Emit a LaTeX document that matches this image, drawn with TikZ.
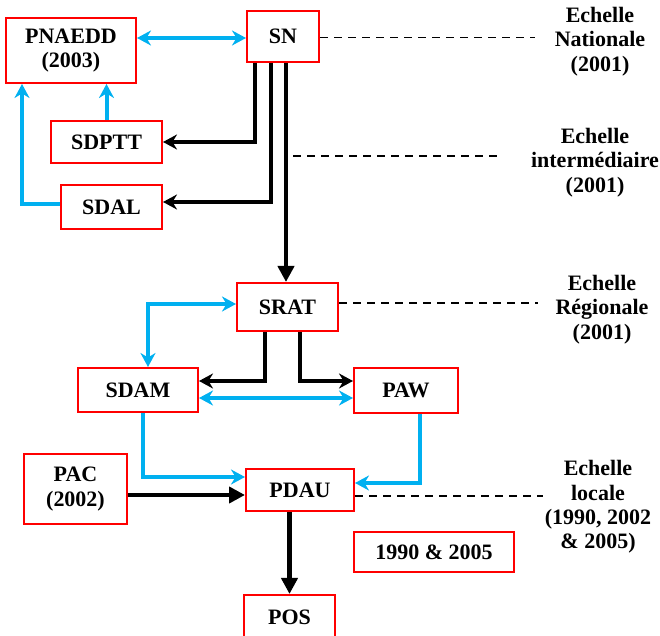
\documentclass[tikz,border=0pt]{standalone}
\usepackage{fontspec}
\setmainfont{Liberation Serif}
\usetikzlibrary{arrows.meta}
\definecolor{lienbleu}{HTML}{00B0F0}
\tikzset{
  boite/.style = {draw = red, line width = 1pt, inner sep = 0pt, align = center, font = \fontsize{11}{12.2}\selectfont\bfseries},
  echelle/.style = {align = center, font = \fontsize{11}{12.2}\selectfont\bfseries, inner sep = 0pt},
  noir/.style = {draw = black, line width = 2.2pt, -{Stealth[length = 7pt, width = 7.5pt]}},
  pointe/.style = {draw = black, line width = 2.2pt, -{Triangle[length = 8pt, width = 8pt]}},
  bleu/.style = {draw = lienbleu, line width = 2pt, -{Stealth[length = 7pt, width = 7.5pt]}},
  bleux/.style = {bleu, {Stealth[length = 7pt, width = 7.5pt]}-{Stealth[length = 7pt, width = 7.5pt]}},
  tirets/.style = {draw = black, line width = 0.6pt, dash pattern = on 4pt off 3pt}
}
\begin{document}
\begin{tikzpicture}[x = 0.5pt, y = -0.5pt]
\useasboundingbox (0,0) rectangle (660,636);
\node[boite, minimum width = 65pt, minimum height = 32.5pt] (pnaedd) at (71,50.5) {PNAEDD\\(2003)};
\node[boite, minimum width = 36pt, minimum height = 25.5pt] (sn) at (283,36.5) {SN};
\node[boite, minimum width = 55.5pt, minimum height = 21pt] (sdptt) at (106.5,142) {SDPTT};
\node[boite, minimum width = 50.5pt, minimum height = 22pt] (sdal) at (111.5,207) {SDAL};
\node[boite, minimum width = 50.5pt, minimum height = 24pt] (srat) at (287.5,307) {SRAT};
\node[boite, minimum width = 60pt, minimum height = 22pt] (sdam) at (138,390) {SDAM};
\node[boite, minimum width = 52pt, minimum height = 22.5pt] (paw) at (406,390.5) {PAW};
\node[boite, minimum width = 54pt, minimum height = 21pt] (pdau) at (300,490) {PDAU};
\node[boite, minimum width = 51.5pt, minimum height = 35pt] (pac) at (75.5,489) {PAC\\(2002)};
\node[boite, minimum width = 45.5pt, minimum height = 22pt] (pos) at (289.5,617) {POS};
\node[boite, minimum width = 80pt, minimum height = 20pt] (dates) at (434,552) {1990 \& 2005};
\node[echelle] (nat) at (600,41.5) {Echelle\\Nationale\\(2001)};
\node[echelle] (inter) at (595,162.5) {Echelle\\interm\'ediaire\\(2001)};
\node[echelle] (reg) at (602,309.5) {Echelle\\R\'egionale\\(2001)};
\node[echelle] (loc) at (598,507) {Echelle\\locale\\(1990, 2002\\\& 2005)};
\coordinate (natfin) at (535,37.5);
\coordinate (interdeb) at (293,156);
\coordinate (interfin) at (498,156);
\coordinate (regfin) at (538,303);
\coordinate (locfin) at (543,496);
\draw[tirets] ([yshift = -0.5pt]sn.east) -- (natfin);
\draw[tirets] (interdeb) -- (interfin);
\draw[tirets] ([yshift = 2pt]srat.east) -- (regfin);
\draw[tirets] ([yshift = -3pt]pdau.east) -- (locfin);
\draw[bleux] ([yshift = -0.75pt]sn.west) -- ([yshift = -0.75pt]sn.west -| pnaedd.east);
\draw[bleu] (sdptt.north) -- (sdptt.north |- pnaedd.south);
\draw[bleu] ([yshift = 1.5pt]sdal.west) -| ([xshift = 8.5pt]pnaedd.south west);
\draw[noir] ([xshift = -14pt]sn.south) |- (sdptt.east);
\draw[noir] ([xshift = -6pt]sn.south) |- ([yshift = 2.5pt]sdal.east);
\draw[pointe] ([xshift = 1.5pt]sn.south) -- ([xshift = 1.5pt]sn.south |- srat.north);
\draw[bleux] ([yshift = 1.5pt]srat.west) -| ([xshift = 5pt]sdam.north);
\draw[noir] ([xshift = -11.25pt]srat.south) |- ([yshift = 4.5pt]sdam.east);
\draw[noir] ([xshift = 6.25pt]srat.south) |- ([yshift = 4.75pt]paw.west);
\draw[bleux] ([yshift = -4pt]sdam.east) -- ([yshift = -4pt]sdam.east -| paw.west);
\draw[bleu] ([xshift = 2.5pt]sdam.south) |- ([yshift = 6.5pt]pdau.west);
\draw[bleu] ([xshift = 7pt]paw.south) |- ([yshift = 3.5pt]pdau.east);
\draw[pointe] ([yshift = -3pt]pac.east) -- ([yshift = -3pt]pac.east -| pdau.west);
\draw[pointe] (pos.north |- pdau.south) -- (pos.north);
\end{tikzpicture}
\end{document}
